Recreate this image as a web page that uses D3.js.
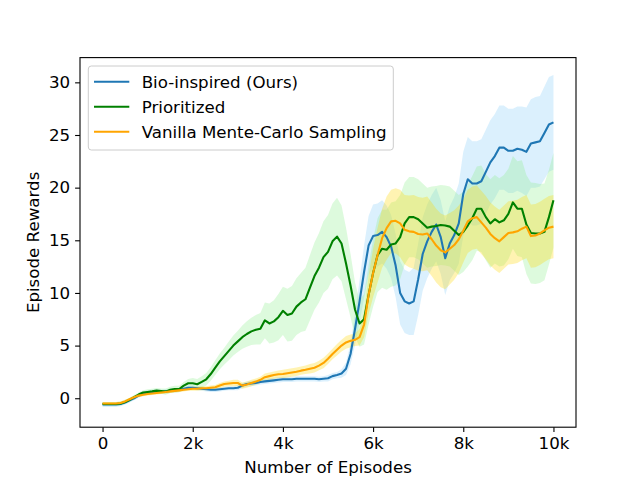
<!DOCTYPE html>
<html>
<head>
<meta charset="utf-8">
<script src="https://cdn.jsdelivr.net/npm/d3@7"></script>
<style>
  body { margin: 0; background: #fff; }
  text { font-family: "DejaVu Sans", sans-serif; }
</style>
</head>
<body>
<div class="canvas"></div>
<script>
// episodes, every 100
const episodes = d3.range(0, 10001, 100);

const bioInspired = [
  -0.6, -0.6, -0.6, -0.6, -0.55, -0.4, -0.2, 0.0, 0.25, 0.45,
  0.55, 0.6, 0.65, 0.6, 0.65, 0.7, 0.75, 0.8, 0.9, 1.0,
  1.0, 0.95, 0.9, 0.85, 0.8, 0.8, 0.85, 0.9, 0.95, 0.95,
  1.0, 1.2, 1.35, 1.4, 1.45, 1.55, 1.6, 1.65, 1.7, 1.75,
  1.8, 1.8, 1.8, 1.85, 1.85, 1.85, 1.85, 1.85, 1.8, 1.85,
  1.9, 2.1, 2.2, 2.35, 2.8, 4.2, 6.6, 9.2, 12.0, 14.5,
  15.4, 15.5, 15.8, 15.3, 14.4, 12.6, 10.0, 9.2, 9.0, 9.2,
  11.3, 13.7, 14.9, 15.8, 16.5, 15.3, 13.3, 14.7, 15.5, 16.6,
  19.4, 20.8, 20.4, 20.4, 20.6, 21.5, 22.4, 23.0, 23.8, 23.8,
  23.5, 23.5, 23.7, 23.6, 23.4, 24.2, 24.3, 24.4, 25.2, 26.0,
  26.2
];
const bioBand = [
  0.2, 0.2, 0.2, 0.2, 0.2, 0.2, 0.2, 0.2, 0.2, 0.2,
  0.2, 0.2, 0.2, 0.2, 0.2, 0.2, 0.2, 0.2, 0.2, 0.2,
  0.2, 0.2, 0.2, 0.2, 0.2, 0.2, 0.2, 0.2, 0.2, 0.2,
  0.25, 0.25, 0.25, 0.25, 0.25, 0.25, 0.25, 0.25, 0.25, 0.25,
  0.25, 0.25, 0.25, 0.25, 0.25, 0.25, 0.25, 0.25, 0.25, 0.25,
  0.3, 0.3, 0.3, 0.4, 0.6, 1.0, 1.5, 2.0, 2.5, 2.8,
  3.0, 3.0, 3.0, 3.0, 3.0, 3.0, 3.0, 3.0, 3.0, 3.2,
  3.4, 3.5, 3.5, 3.5, 3.5, 3.5, 3.5, 3.5, 3.6, 3.8,
  4.0, 4.0, 4.0, 4.0, 4.0, 4.0, 4.0, 4.0, 4.0, 4.0,
  4.0, 4.0, 4.0, 4.1, 4.2, 4.2, 4.3, 4.3, 4.4, 4.5,
  4.5
];

const prioritized = [
  -0.55, -0.55, -0.55, -0.55, -0.5, -0.35, -0.15, 0.1, 0.35, 0.55,
  0.6, 0.65, 0.72, 0.68, 0.63, 0.8, 0.88, 0.88, 1.2, 1.42,
  1.42, 1.33, 1.55, 1.8, 2.3, 2.9, 3.5, 4.0, 4.5, 5.0,
  5.4, 5.8, 6.1, 6.35, 6.5, 6.6, 7.4, 7.1, 7.3, 7.7,
  8.3, 7.9, 8.05, 8.7, 9.1, 9.4, 10.5, 11.6, 12.4, 13.4,
  13.9, 14.9, 15.35, 14.7, 12.8, 10.7, 8.4, 7.1, 7.5, 9.8,
  11.9, 13.6, 14.2, 14.1, 14.6, 14.7, 15.3, 16.6, 17.2, 17.2,
  17.0, 16.6, 16.2, 16.3, 16.35, 16.45, 16.4, 16.3, 15.9, 15.5,
  15.8, 16.4, 17.1, 18.0, 18.0, 17.2, 16.6, 17.0, 16.7, 16.9,
  17.5, 18.6, 18.0, 18.0, 16.5, 15.7, 15.65, 15.65, 15.8, 17.2,
  18.8
];
const prioritizedBand = [
  0.2, 0.2, 0.2, 0.2, 0.2, 0.2, 0.2, 0.2, 0.2, 0.2,
  0.25, 0.25, 0.25, 0.25, 0.3, 0.3, 0.3, 0.3, 0.35, 0.4,
  0.5, 0.5, 0.55, 0.6, 0.65, 0.7, 0.75, 0.8, 0.9, 0.95,
  1.0, 1.1, 1.2, 1.3, 1.4, 1.5, 1.7, 1.9, 2.0, 2.2,
  2.3, 2.5, 2.6, 2.7, 2.8, 3.0, 3.1, 3.2, 3.3, 3.4,
  3.5, 3.6, 3.7, 3.6, 3.4, 3.0, 2.6, 2.2, 2.4, 2.8,
  3.2, 3.5, 3.7, 3.8, 4.0, 4.0, 4.0, 3.9, 3.8, 3.8,
  3.8, 3.8, 3.8, 3.8, 3.8, 3.8, 3.8, 3.8, 3.8, 3.8,
  3.8, 3.9, 4.0, 4.0, 4.1, 4.1, 4.2, 4.2, 4.2, 4.3,
  4.3, 4.4, 4.5, 4.6, 4.7, 4.8, 4.8, 4.7, 4.6, 4.5,
  4.5
];

const vanilla = [
  -0.5, -0.5, -0.5, -0.5, -0.45, -0.3, -0.1, 0.1, 0.25, 0.33,
  0.4, 0.45, 0.5, 0.55, 0.6, 0.65, 0.7, 0.75, 0.8, 0.85,
  0.9, 0.9, 0.95, 0.95, 1.0, 1.05, 1.2, 1.35, 1.4, 1.45,
  1.45, 1.2, 1.3, 1.45, 1.58, 1.75, 2.0, 2.1, 2.2, 2.28,
  2.3, 2.38, 2.45, 2.52, 2.62, 2.7, 2.8, 2.9, 3.1, 3.35,
  3.75, 4.2, 4.6, 5.0, 5.3, 5.45, 5.55, 5.8, 7.0, 9.8,
  11.9, 13.6, 15.2, 16.15, 16.8, 16.85, 16.6, 16.0, 15.85, 15.8,
  15.6, 15.55, 15.65, 15.1, 14.5, 14.05, 13.85, 14.2, 14.55, 15.1,
  15.9, 16.8, 17.1, 17.2, 16.7, 16.2, 15.6, 15.2, 14.9, 15.3,
  15.7, 15.75, 15.85, 16.1, 16.3, 15.4, 15.45, 15.65, 15.95, 16.2,
  16.3
];
const vanillaBand = [
  0.15, 0.15, 0.15, 0.15, 0.15, 0.15, 0.15, 0.15, 0.15, 0.15,
  0.15, 0.15, 0.15, 0.15, 0.15, 0.15, 0.15, 0.15, 0.15, 0.15,
  0.2, 0.2, 0.2, 0.2, 0.2, 0.2, 0.25, 0.25, 0.25, 0.3,
  0.3, 0.3, 0.3, 0.3, 0.3, 0.3, 0.35, 0.35, 0.35, 0.35,
  0.4, 0.4, 0.4, 0.4, 0.4, 0.4, 0.45, 0.45, 0.45, 0.5,
  0.5, 0.5, 0.55, 0.55, 0.6, 0.6, 0.6, 0.8, 1.2, 1.8,
  2.3, 2.6, 2.8, 3.0, 3.0, 3.1, 3.2, 3.3, 3.4, 3.5,
  3.5, 3.5, 3.5, 3.5, 3.5, 3.5, 3.5, 3.4, 3.3, 3.2,
  3.0, 3.0, 3.0, 3.0, 3.0, 3.0, 3.0, 3.0, 3.0, 3.0,
  3.0, 3.0, 3.0, 3.0, 3.0, 3.0, 3.0, 3.0, 3.0, 3.0,
  3.0
];

const xTicks = [0, 2000, 4000, 6000, 8000, 10000];
const yTicks = [0, 5, 10, 15, 20, 25, 30];

const series = [
  {name: 'Bio-inspired (Ours)', values: bioInspired, band: bioBand, color: '#1f77b4', fill: 'lightskyblue', alpha: 0.3},
  {name: 'Prioritized', values: prioritized, band: prioritizedBand, color: 'green', fill: 'lightgreen', alpha: 0.3},
  {name: 'Vanilla Mente-Carlo Sampling', values: vanilla, band: vanillaBand, color: 'orange', fill: 'gold', alpha: 0.3}
];

// svg + margins (matplotlib default 640x480 layout)
const svg = d3.select('.canvas')
  .append('svg')
    .attr('width', 640)
    .attr('height', 480);

const margin = {top: 57.6, right: 64, bottom: 52.8, left: 80};
const graphWidth = 640 - margin.left - margin.right;
const graphHeight = 480 - margin.top - margin.bottom;

const graph = svg.append('g')
  .attr('transform', `translate(${margin.left}, ${margin.top})`);

const x = d3.scaleLinear()
  .domain([-500, 10500])
  .range([0, graphWidth]);

const y = d3.scaleLinear()
  .domain([-2.75, 32.35])
  .range([graphHeight, 0]);

// bands first, then lines
series.forEach(s => {
  const area = d3.area()
    .x((d, i) => x(episodes[i]))
    .y0((d, i) => y(d - s.band[i]))
    .y1((d, i) => y(d + s.band[i]));
  graph.append('path')
    .datum(s.values)
    .attr('d', area)
    .attr('fill', s.fill)
    .attr('fill-opacity', s.alpha);
});

series.forEach(s => {
  const line = d3.line()
    .x((d, i) => x(episodes[i]))
    .y(d => y(d));
  graph.append('path')
    .datum(s.values)
    .attr('d', line)
    .attr('fill', 'none')
    .attr('stroke', s.color)
    .attr('stroke-width', 2.1)
    .attr('stroke-linejoin', 'round');
});

// axes
const xAxis = d3.axisBottom(x)
  .tickValues(xTicks)
  .tickSize(4.9)
  .tickPadding(4.9)
  .tickFormat(d => d === 0 ? '0' : d / 1000 + 'k');
const yAxis = d3.axisLeft(y)
  .tickValues(yTicks)
  .tickSize(4.9)
  .tickPadding(4.9);

const xAxisGroup = graph.append('g')
  .attr('transform', `translate(0, ${graphHeight})`)
  .call(xAxis);
const yAxisGroup = graph.append('g').call(yAxis);

[xAxisGroup, yAxisGroup].forEach(g => {
  g.select('.domain').remove();
  g.selectAll('line').attr('stroke', '#000').attr('stroke-width', 1.1);
  g.selectAll('text')
    .attr('fill', '#000')
    .style('font-size', '16.67px')
    .style('font-family', '"DejaVu Sans", sans-serif');
});

// spines
graph.append('rect')
  .attr('width', graphWidth)
  .attr('height', graphHeight)
  .attr('fill', 'none')
  .attr('stroke', '#000')
  .attr('stroke-width', 1.1);

// axis labels
svg.append('text')
  .attr('x', margin.left + graphWidth / 2)
  .attr('y', 473)
  .attr('text-anchor', 'middle')
  .style('font-size', '16.67px')
  .text('Number of Episodes');

svg.append('text')
  .attr('transform', `translate(39, ${margin.top + graphHeight / 2}) rotate(-90)`)
  .attr('text-anchor', 'middle')
  .style('font-size', '16.67px')
  .text('Episode Rewards');

// legend
const legend = graph.append('g')
  .attr('transform', 'translate(8.3, 8.4)');

legend.append('rect')
  .attr('width', 305)
  .attr('height', 84)
  .attr('rx', 3)
  .attr('fill', '#fff')
  .attr('fill-opacity', 0.8)
  .attr('stroke', '#cccccc')
  .attr('stroke-width', 1);

series.forEach((s, i) => {
  const row = legend.append('g')
    .attr('transform', `translate(0, ${15.7 + i * 25})`);
  row.append('line')
    .attr('x1', 5.7).attr('x2', 41)
    .attr('stroke', s.color)
    .attr('stroke-width', 2.1);
  row.append('text')
    .attr('x', 53.4)
    .attr('dy', '0.35em')
    .style('font-size', '16.67px')
    .text(s.name);
});
</script>
</body>
</html>
